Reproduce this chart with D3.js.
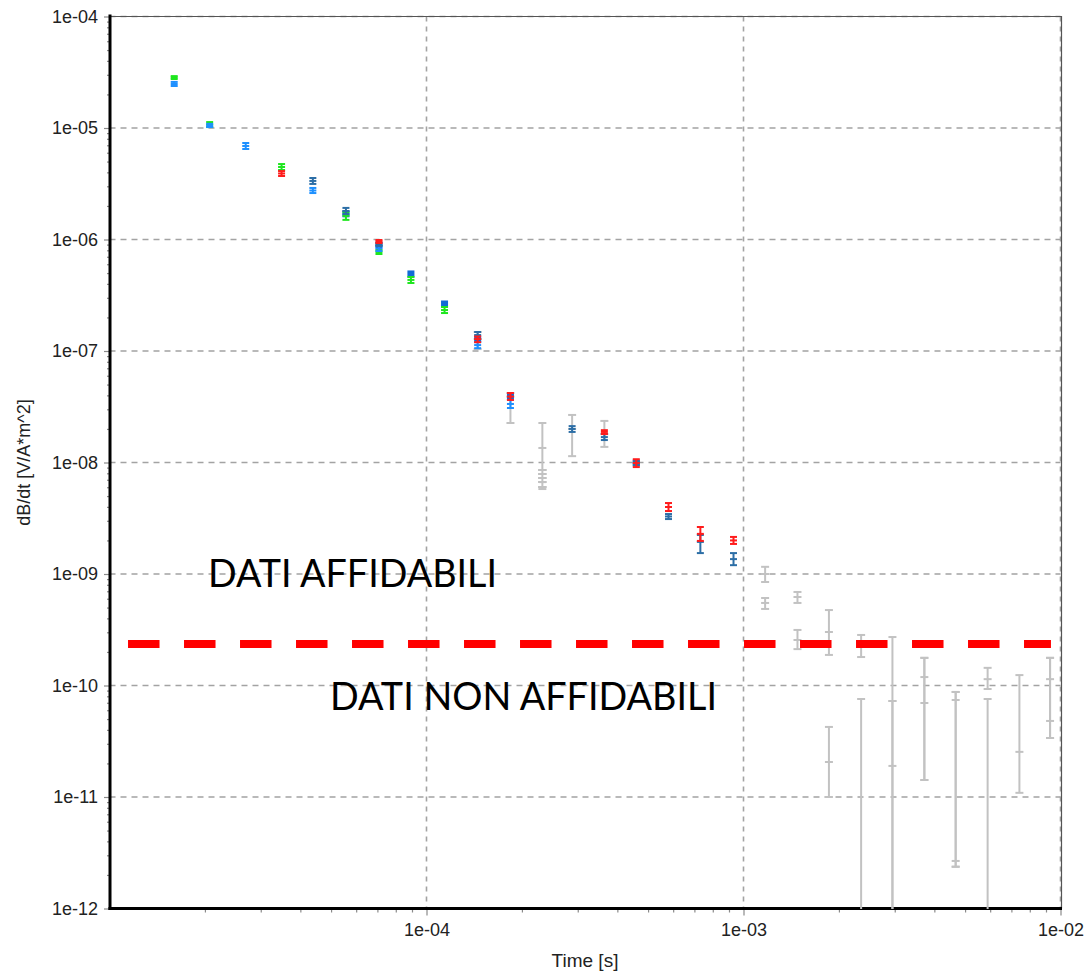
<!DOCTYPE html>
<html>
<head>
<meta charset="utf-8">
<script src="https://cdn.jsdelivr.net/npm/d3@7"></script>
<style>
  body { margin: 0; background: #fff; }
  svg { display: block; }
  .tick text { font-family: "Liberation Sans", Arial, sans-serif; font-size: 18px; fill: #222; }
</style>
</head>
<body>
<svg width="1089" height="971"></svg>
<script>
// gate times [s] (one per measured window)
var gateTimes = [1.60e-5, 2.07e-5, 2.69e-5, 3.49e-5, 4.38e-5, 5.57e-5, 7.08e-5, 8.93e-5,
  1.14e-4, 1.45e-4, 1.84e-4, 2.32e-4, 2.88e-4, 3.64e-4, 4.59e-4, 5.80e-4, 7.31e-4, 9.30e-4,
  1.17e-3, 1.48e-3, 1.86e-3, 2.35e-3, 2.95e-3, 3.72e-3, 4.67e-3, 5.89e-3, 7.42e-3, 9.27e-3];

// [gate index, value, low, high]
var greenSeries = [[0, 2.84e-5, 2.75e-5, 2.92e-5], [1, 1.075e-5, 1.02e-5, 1.13e-5],
  [3, 4.47e-6, 4.2e-6, 4.75e-6], [5, 1.63e-6, 1.5e-6, 1.77e-6], [6, 7.73e-7, 7.41e-7, 8.05e-7],
  [7, 4.34e-7, 4.07e-7, 4.61e-7], [8, 2.33e-7, 2.19e-7, 2.48e-7]];

var lightBlueSeries = [[0, 2.48e-5, 2.38e-5, 2.59e-5], [1, 1.05e-5, 1.02e-5, 1.09e-5],
  [2, 6.9e-6, 6.48e-6, 7.34e-6], [4, 2.75e-6, 2.61e-6, 2.9e-6], [6, 8.3e-7, 7.88e-7, 8.75e-7],
  [9, 1.13e-7, 1.06e-7, 1.2e-7], [10, 3.35e-8, 3.08e-8, 3.64e-8]];

var darkBlueSeries = [[4, 3.35e-6, 3.15e-6, 3.56e-6], [5, 1.8e-6, 1.69e-6, 1.92e-6],
  [6, 8.93e-7, 8.75e-7, 9.3e-7], [9, 1.39e-7, 1.28e-7, 1.48e-7], [12, 2.0e-8, 1.88e-8, 2.12e-8],
  [13, 1.69e-8, 1.59e-8, 1.8e-8], [14, 9.9e-9, 9.5e-9, 1.03e-8], [15, 3.28e-9, 3.11e-9, 3.45e-9],
  [16, 1.94e-9, 1.54e-9, 2.24e-9], [17, 1.36e-9, 1.2e-9, 1.54e-9]];

var redSeries = [[3, 3.91e-6, 3.71e-6, 4.11e-6], [6, 9.6e-7, 9.3e-7, 9.9e-7],
  [9, 1.28e-7, 1.2e-7, 1.35e-7], [10, 3.9e-8, 3.64e-8, 4.2e-8], [13, 1.88e-8, 1.8e-8, 1.95e-8],
  [14, 9.9e-9, 9.1e-9, 1.07e-8], [15, 3.99e-9, 3.67e-9, 4.33e-9], [16, 2.29e-9, 1.98e-9, 2.64e-9],
  [17, 2.0e-9, 1.86e-9, 2.15e-9]];

var graySeries = [[9, 1.28e-7, 1.04e-7, 1.48e-7], [10, 3.9e-8, 2.26e-8, 4.2e-8],
  [11, 1.35e-8, 5.78e-9, 2.26e-8], [11, 8.57e-9, 8.57e-9, 8.57e-9], [11, 7.89e-9, 7.89e-9, 7.89e-9],
  [11, 7.26e-9, 7.26e-9, 7.26e-9], [11, 6.68e-9, 6.68e-9, 6.68e-9], [11, 6.03e-9, 6.03e-9, 6.03e-9],
  [12, 2.0e-8, 1.14e-8, 2.67e-8], [13, 1.8e-8, 1.38e-8, 2.36e-8],
  [18, 1.0e-9, 8.48e-10, 1.16e-9], [18, 5.5e-10, 4.86e-10, 6.09e-10],
  [19, 6.22e-10, 5.5e-10, 6.9e-10], [19, 2.56e-10, 2.12e-10, 3.15e-10],
  [20, 3.02e-10, 1.88e-10, 4.75e-10], [20, 2.06e-11, 1.0e-11, 4.25e-11],
  [21, 2.26e-10, 1.8e-10, 2.84e-10], [21, 1e-13, 1e-13, 7.57e-11],
  [22, 7.26e-11, 1e-13, 2.72e-10], [22, 1.9e-11, 1e-13, 7.26e-11],
  [23, 1.19e-10, 1.42e-11, 1.77e-10], [23, 6.97e-11, 1.42e-11, 1.77e-10],
  [24, 7.41e-11, 2.37e-12, 8.75e-11], [24, 2.67e-12, 2.37e-12, 8.75e-11],
  [25, 1.14e-10, 9.3e-11, 1.44e-10], [25, 1e-13, 1e-13, 7.57e-11],
  [26, 2.54e-11, 1.09e-11, 1.24e-10],
  [27, 1.14e-10, 3.38e-11, 1.77e-10], [27, 4.81e-11, 3.38e-11, 1.77e-10]];

// [gate index, value] - filled square markers
var squareMarkers = [[5, 1.7e-6], [6, 8.93e-7], [7, 4.91e-7], [8, 2.64e-7], [9, 1.28e-7],
  [10, 3.9e-8], [14, 9.9e-9]];

var yTickValues = [1e-12, 1e-11, 1e-10, 1e-9, 1e-8, 1e-7, 1e-6, 1e-5, 1e-4];
var yTickLabels = ["1e-12", "1e-11", "1e-10", "1e-09", "1e-08", "1e-07", "1e-06", "1e-05", "1e-04"];
var xTickValues = [1e-4, 1e-3, 1e-2];
var xTickLabels = ["1e-04", "1e-03", "1e-02"];

var thresholdValue = 2.36e-10;
var thresholdSpan = [1.144e-5, 9.33e-3];
var reliableText = "DATI AFFIDABILI";
var unreliableText = "DATI NON AFFIDABILI";

var svg = d3.select("svg");

var x = d3.scaleLog().domain([1e-5, 1e-2]).range([109.5, 1060.5]);
var y = d3.scaleLog().domain([1e-12, 1e-4]).range([908.5, 16.5]);

svg.append("defs").append("clipPath").attr("id", "plotclip")
  .append("rect").attr("x", 109).attr("y", 15).attr("width", 953).attr("height", 894);

// minor tick positions (2..9 within each decade)
var xMinor = [], yMinor = [];
[1e-5, 1e-4, 1e-3].forEach(function(d) { for (var k = 2; k < 10; k++) xMinor.push(d * k); });
yTickValues.slice(0, -1).forEach(function(d) { for (var k = 2; k < 10; k++) yMinor.push(d * k); });

// grid
var grid = svg.append("g").attr("class", "grid");
grid.selectAll("line.h")
  .data(yTickValues.slice(1))
  .enter().append("line")
  .attr("x1", x.range()[0]).attr("x2", x.range()[1])
  .attr("y1", function(d) { return y(d); }).attr("y2", function(d) { return y(d); })
  .attr("stroke", "#a3a3a3").attr("stroke-width", 1.6).attr("stroke-dasharray", "6,5");
grid.selectAll("line.v")
  .data(xTickValues)
  .enter().append("line")
  .attr("y1", y.range()[1]).attr("y2", y.range()[0])
  .attr("x1", function(d) { return x(d); }).attr("x2", function(d) { return x(d); })
  .attr("stroke", "#a3a3a3").attr("stroke-width", 1.6).attr("stroke-dasharray", "5,5");

// top / right frame
svg.append("path")
  .attr("d", "M109," + y.range()[1] + "H1061.5V908.5")
  .attr("fill", "none").attr("stroke", "#555").attr("stroke-width", 1.2);

// axes
var yAxis = svg.append("g").attr("transform", "translate(110,0)")
  .call(d3.axisLeft(y).tickValues(yTickValues).tickSize(6).tickPadding(6).tickSizeOuter(0)
    .tickFormat(function(d, i) { return yTickLabels[i]; }));
var yMinorAxis = svg.append("g").attr("transform", "translate(110,0)")
  .call(d3.axisLeft(y).tickValues(yMinor).tickSize(3).tickSizeOuter(0).tickFormat(""));
var xAxis = svg.append("g").attr("transform", "translate(0,908.5)")
  .call(d3.axisBottom(x).tickValues(xTickValues).tickSize(7).tickPadding(8).tickSizeOuter(0)
    .tickFormat(function(d, i) { return xTickLabels[i]; }));
var xMinorAxis = svg.append("g").attr("transform", "translate(0,908.5)")
  .call(d3.axisBottom(x).tickValues(xMinor).tickSize(4).tickSizeOuter(0).tickFormat(""));

[yAxis, yMinorAxis, xAxis, xMinorAxis].forEach(function(a) {
  a.select(".domain").remove();
  a.selectAll(".tick line").attr("stroke", "#8a8a8a").attr("stroke-width", 1.2);
  a.attr("font-family", null).attr("font-size", null);
});

svg.append("line").attr("x1", 110).attr("x2", 110).attr("y1", 14.5).attr("y2", 910)
  .attr("stroke", "#000").attr("stroke-width", 3);
svg.append("line").attr("x1", 108.5).attr("x2", 1062).attr("y1", 908.5).attr("y2", 908.5)
  .attr("stroke", "#000").attr("stroke-width", 3);

svg.append("text")
  .attr("transform", "translate(30," + ((y.range()[0] + y.range()[1]) / 2) + ") rotate(-90)")
  .attr("text-anchor", "middle")
  .attr("font-family", "Liberation Sans, Arial, sans-serif").attr("font-size", 18)
  .attr("fill", "#222")
  .text("dB/dt [V/A*m^2]");
svg.append("text")
  .attr("x", (x.range()[0] + x.range()[1]) / 2).attr("y", 967)
  .attr("text-anchor", "middle")
  .attr("font-family", "Liberation Sans, Arial, sans-serif").attr("font-size", 19)
  .attr("fill", "#222")
  .text("Time [s]");

var plot = svg.append("g").attr("clip-path", "url(#plotclip)");

function drawErrorBars(data, color, capW, width) {
  var g = plot.append("g");
  var bar = g.selectAll("g").data(data).enter().append("g");
  bar.append("line")
    .attr("x1", function(d) { return x(gateTimes[d[0]]); })
    .attr("x2", function(d) { return x(gateTimes[d[0]]); })
    .attr("y1", function(d) { return y(d[2]); })
    .attr("y2", function(d) { return y(d[3]); });
  [1, 2, 3].forEach(function(k) {
    bar.append("line")
      .attr("x1", function(d) { return x(gateTimes[d[0]]) - capW / 2; })
      .attr("x2", function(d) { return x(gateTimes[d[0]]) + capW / 2; })
      .attr("y1", function(d) { return y(d[k]); })
      .attr("y2", function(d) { return y(d[k]); });
  });
  bar.selectAll("line").attr("stroke", color).attr("stroke-width", width);
}

drawErrorBars(graySeries, "#c2c2c2", 8, 2);

plot.append("g").selectAll("rect")
  .data(squareMarkers)
  .enter().append("rect")
  .attr("x", function(d) { return x(gateTimes[d[0]]) - 3.5; })
  .attr("y", function(d) { return y(d[1]) - 3.5; })
  .attr("width", 7).attr("height", 7)
  .attr("fill", "#116ad6");

drawErrorBars(greenSeries, "#1ee61e", 7, 2);
drawErrorBars(lightBlueSeries, "#1e90ff", 7, 2);
drawErrorBars(darkBlueSeries, "#2c6ea6", 7, 2);
drawErrorBars(redSeries, "#ff1c1c", 7, 2);

// reliability threshold
svg.append("line")
  .attr("x1", x(thresholdSpan[0])).attr("x2", x(thresholdSpan[1]))
  .attr("y1", y(thresholdValue)).attr("y2", y(thresholdValue))
  .attr("stroke", "#ff0000").attr("stroke-width", 8).attr("stroke-dasharray", "31.5,24.5");

svg.append("text")
  .attr("x", 208).attr("y", 587)
  .attr("font-family", "Lato, sans-serif").attr("font-size", 39).attr("fill", "#000")
  .attr("textLength", 289).attr("lengthAdjust", "spacingAndGlyphs")
  .text(reliableText);
svg.append("text")
  .attr("x", 330).attr("y", 710)
  .attr("font-family", "Lato, sans-serif").attr("font-size", 39).attr("fill", "#000")
  .attr("textLength", 387).attr("lengthAdjust", "spacingAndGlyphs")
  .text(unreliableText);
</script>
</body>
</html>
